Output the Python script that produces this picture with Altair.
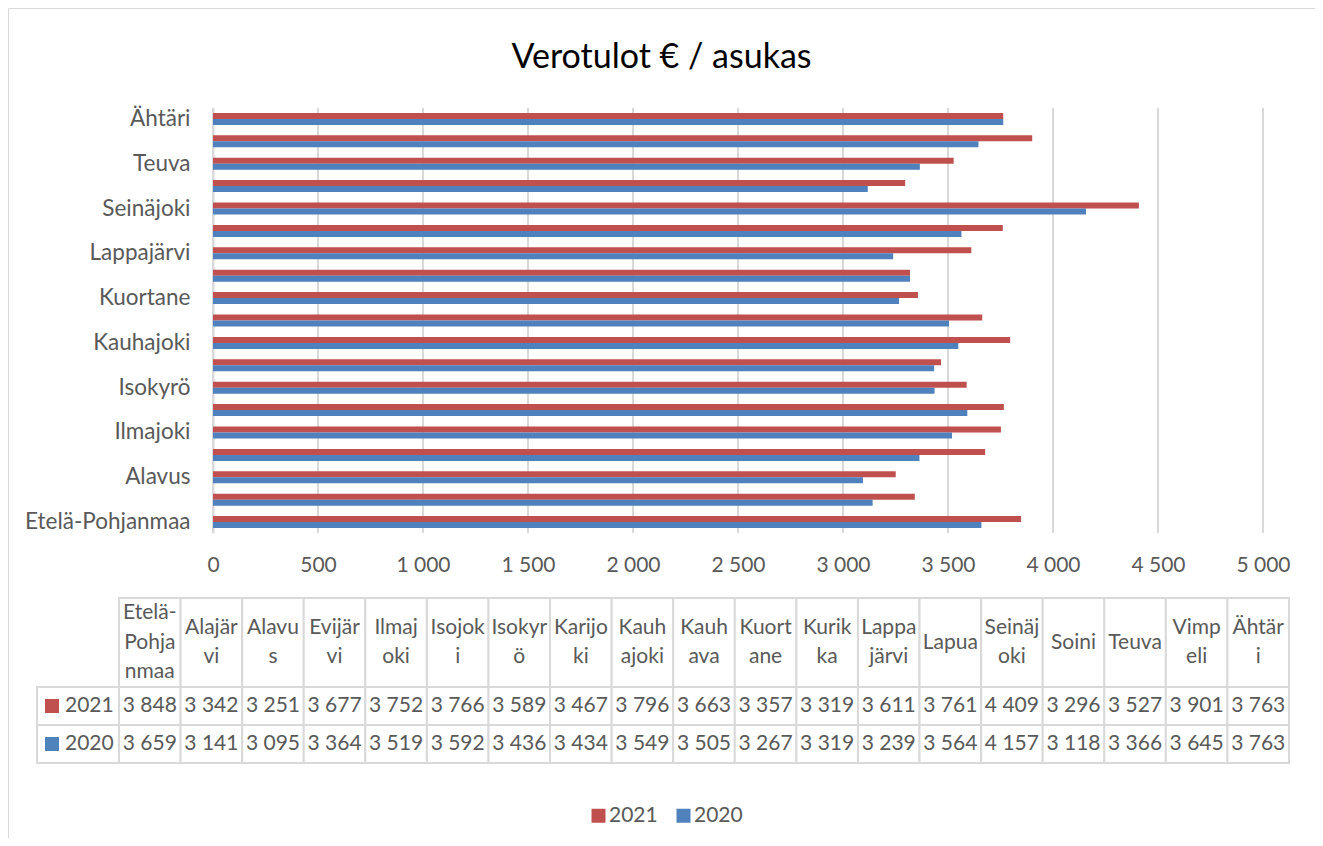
import altair as alt
import pandas as pd

# ---------------- data ----------------
categories = ["Etelä-Pohjanmaa", "Alajärvi", "Alavus", "Evijärvi", "Ilmajoki", "Isojoki",
              "Isokyrö", "Karijoki", "Kauhajoki", "Kauhava", "Kuortane", "Kurikka",
              "Lappajärvi", "Lapua", "Seinäjoki", "Soini", "Teuva", "Vimpeli", "Ähtäri"]
header_labels = ["Etelä-|Pohja|nmaa", "Alajär|vi", "Alavu|s", "Evijär|vi", "Ilmaj|oki",
                 "Isojok|i", "Isokyr|ö", "Karijo|ki", "Kauh|ajoki", "Kauh|ava", "Kuort|ane",
                 "Kurik|ka", "Lappa|järvi", "Lapua", "Seinäj|oki", "Soini", "Teuva",
                 "Vimp|eli", "Ähtär|i"]
v2021 = [3848, 3342, 3251, 3677, 3752, 3766, 3589, 3467, 3796, 3663, 3357, 3319,
         3611, 3761, 4409, 3296, 3527, 3901, 3763]
v2020 = [3659, 3141, 3095, 3364, 3519, 3592, 3436, 3434, 3549, 3505, 3267, 3319,
         3239, 3564, 4157, 3118, 3366, 3645, 3763]
years = ["2021", "2020"]
colors = ["#C0504D", "#4F81BD"]
x_ticks = [0, 500, 1000, 1500, 2000, 2500, 3000, 3500, 4000, 4500, 5000]
y_labels = categories[::2]
chart_title = "Verotulot € / asukas"

FONT = "Lato"
TXT = "#595959"
GRID = "#d9d9d9"
FS = 21

df_bars = pd.DataFrame({
    "cat": categories * 2,
    "year": ["2021"] * len(categories) + ["2020"] * len(categories),
    "value": v2021 + v2020,
})
df_hdr = pd.DataFrame({"cat": categories, "row": "h"})
# one row per wrapped header line, with its position relative to the cell's centre
hdr_rows = []
for cat, lab in zip(categories, header_labels):
    parts = lab.split("|")
    n = len(parts)
    for i, p in enumerate(parts):
        hdr_rows.append({"cat": cat, "line": p, "pos": i - (n - 1) / 2})
df_hdr_lines = pd.DataFrame(hdr_rows)
df_rh = pd.DataFrame({"year": years, "rh": "rh"})
df_grid = pd.DataFrame({"tick": x_ticks})

# ---------------- scales ----------------
def color_scale():
    return alt.Scale(domain=years, range=colors)

def bar_x():
    return alt.Scale(domain=[0, 5000], range=[205, 1255], nice=False)

def table_x():
    return alt.Scale(domain=categories, range=[111, 1281], paddingInner=0, paddingOuter=0)

def hdr_y():
    return alt.Scale(domain=["h"], range=[590, 679], paddingInner=0, paddingOuter=0)

def row_y():
    return alt.Scale(domain=years, range=[679, 755], paddingInner=0, paddingOuter=0)

def rh_x():
    return alt.Scale(domain=["rh"], range=[29, 111], paddingInner=0, paddingOuter=0)

# ---------------- bar chart ----------------
grid = alt.Chart(df_grid).mark_rule(color=GRID, strokeWidth=2).encode(
    x=alt.X("tick:Q", scale=bar_x(), axis=None),
    y=alt.Y(datum=0, scale=alt.Scale(domain=[0, 1], range=[100, 525]), axis=None),
    y2=alt.Y2(datum=1),
)

bars = alt.Chart(df_bars).mark_bar().encode(
    x=alt.X("value:Q", scale=bar_x(),
            axis=alt.Axis(values=x_ticks, format=",d", orient="bottom", offset=-305,
                          domain=False, ticks=False, grid=False,
                          labelFont=FONT, labelFontSize=FS, labelColor=TXT,
                          labelBaseline="middle", labelPadding=32, labelFlush=False,
                          labelOverlap=False, title=None)),
    y=alt.Y("cat:N",
            scale=alt.Scale(domain=categories[::-1], range=[100, 525],
                            paddingInner=0.464, paddingOuter=0.22),
            axis=alt.Axis(values=y_labels, orient="left", offset=-205, title=None,
                          ticks=False, tickSize=0, domainColor=GRID, domainWidth=2,
                          labelFont=FONT, labelFontSize=22.5, labelColor=TXT,
                          labelPadding=23, grid=False, labelOverlap=False)),
    yOffset=alt.YOffset("year:N", scale=alt.Scale(domain=years, paddingInner=0, paddingOuter=0)),
    color=alt.Color("year:N", scale=color_scale(),
                    legend=alt.Legend(orient="none", legendX=580, legendY=797,
                                      direction="horizontal", title=None,
                                      symbolType="square", symbolSize=196,
                                      symbolStrokeWidth=0, labelFont=FONT,
                                      labelFontSize=FS, labelColor=TXT, labelOffset=0,
                                      columnPadding=15, padding=0)),
)

# ---------------- data table ----------------
hdr_cells = alt.Chart(df_hdr).mark_rect(fill="white", stroke=GRID, strokeWidth=2).encode(
    x=alt.X("cat:N", scale=table_x(), axis=None, sort=None),
    y=alt.Y("row:N", scale=hdr_y(), axis=None),
)
hdr_text = alt.Chart(df_hdr_lines).mark_text(
    font=FONT, fontSize=FS, color=TXT, baseline="middle", align="center").encode(
    x=alt.X("cat:N", scale=table_x(), axis=None, sort=None),
    y=alt.Y("pos:Q", scale=alt.Scale(domain=[-1, 1], range=[605, 664]), axis=None),
    text="line:N",
)
data_cells = alt.Chart(df_bars).mark_rect(fill="white", stroke=GRID, strokeWidth=2).encode(
    x=alt.X("cat:N", scale=table_x(), axis=None, sort=None),
    y=alt.Y("year:N", scale=row_y(), axis=None),
)
data_text = alt.Chart(df_bars).mark_text(
    font=FONT, fontSize=FS, color=TXT, baseline="middle", align="center").encode(
    x=alt.X("cat:N", scale=table_x(), axis=None, sort=None),
    y=alt.Y("year:N", scale=row_y(), axis=None),
    text=alt.Text("value:Q", format=",d"),
)
rh_cells = alt.Chart(df_rh).mark_rect(fill="white", stroke=GRID, strokeWidth=2).encode(
    x=alt.X("rh:N", scale=rh_x(), axis=None),
    y=alt.Y("year:N", scale=row_y(), axis=None),
)
rh_sq = alt.Chart(df_rh).mark_square(size=196, filled=True, opacity=1, xOffset=-26).encode(
    x=alt.X("rh:N", scale=rh_x(), axis=None),
    y=alt.Y("year:N", scale=row_y(), axis=None),
    color=alt.Color("year:N", scale=color_scale(), legend=None),
)
rh_text = alt.Chart(df_rh).mark_text(
    font=FONT, fontSize=FS, color=TXT, baseline="middle", align="left", dx=-13).encode(
    x=alt.X("rh:N", scale=rh_x(), axis=None),
    y=alt.Y("year:N", scale=row_y(), axis=None),
    text="year:N",
)

chart = alt.layer(
    grid, bars, hdr_cells, hdr_text, data_cells, data_text, rh_cells, rh_sq, rh_text
).resolve_scale(
    x="independent", y="independent", color="independent", yOffset="independent"
).properties(
    width=1307, height=830, padding=0,
    autosize=alt.AutoSizeParams(type="none"),
    title=alt.Title(chart_title, font=FONT, fontSize=34, color="black", fontWeight="normal",
                    anchor="middle", frame="group", offset=-84, baseline="middle"),
).configure(
    locale={"number": {"decimal": ",", "thousands": " ", "grouping": [3],
                       "currency": ["", " €"]}},
    view=alt.ViewConfig(stroke=GRID, strokeWidth=1),
)

chart.save("out.html", embed_options={"renderer": "svg", "actions": False})
